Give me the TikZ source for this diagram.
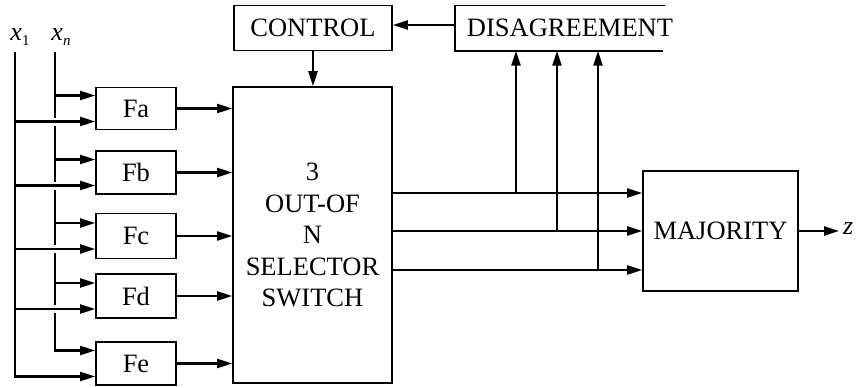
\documentclass[tikz,border=0pt]{standalone}
\usepackage{fontspec}
\setmainfont{Liberation Serif}
\usetikzlibrary{arrows.meta,calc}
\newcommand{\subsc}[1]{\raisebox{-5pt}{\fontsize{15}{18}\selectfont #1}}
\begin{document}
\begin{tikzpicture}[x=1pt,y=-1pt,
  bx/.style={draw, line width=1.6pt, inner sep=0pt, font=\fontsize{26.5}{31}\selectfont},
  conn/.style={line width=2.2pt, -{Triangle[length=15pt,width=9pt]}},
  gapconn/.style={conn, preaction={draw=white, line width=8pt, -, shorten <=4pt, shorten >=14pt}},
  lbl/.style={inner sep=1pt, font=\fontsize{26}{30}\selectfont\itshape}]
\useasboundingbox (0,0) rectangle (863,388);
\fill[white] (0,0) rectangle (863,388);

% F boxes
\node[bx, minimum width=80pt, minimum height=42pt] (Fa) at (136,108.5) {Fa};
\node[bx, minimum width=80pt, minimum height=43pt] (Fb) at (136,172.5) {Fb};
\node[bx, minimum width=80pt, minimum height=45pt] (Fc) at (136,236) {Fc};
\node[bx, minimum width=80pt, minimum height=44pt] (Fd) at (136,296) {Fd};
\node[bx, minimum width=80pt, minimum height=43pt] (Fe) at (136,363.5) {Fe};

% selector
\node[bx, minimum width=159pt, minimum height=296pt, align=center,
      font=\fontsize{26.5}{31.5}\selectfont] (Sel) at (312.5,235)
      {3\\OUT-OF\\N\\SELECTOR\\SWITCH};

% control and disagreement
\node[bx, minimum width=158pt, minimum height=45pt] (Ctrl) at (313,28) {CONTROL};
\node[inner sep=0pt, minimum width=210pt, minimum height=45pt, anchor=west] (Dis) at (455,28) {};
\draw[line width=1.6pt] (Dis.north east) -- (Dis.north west) -- (Dis.south west) -- ([xshift=-2pt]Dis.south east);
\node[font=\fontsize{26.5}{31}\selectfont, inner sep=0pt] (DisT) at (570,28) {DISAGREEMENT};

% majority
\node[bx, minimum width=155pt, minimum height=120pt] (Maj) at (720.5,231) {MAJORITY};
\node[lbl, anchor=west] (zl) at (842,229) {z};

% inputs
\coordinate (x1top) at (15,52);
\coordinate (xntop) at (55,52);
\node[lbl] (lx1) at (20,37) {x\subsc{\upshape 1}};
\node[lbl] (lxn) at (61,37) {x\subsc{n}};

\foreach \n in {a,b,c,d,e}{
  \coordinate (p\n) at ([yshift=13pt]F\n.west);
  \coordinate (q\n) at ([yshift=-13pt]F\n.west);
}
% x_n bus
\draw[conn] (xntop) |- (pe);
\foreach \n in {a,b,c,d}{
  \draw[conn] (xntop |- p\n) -- (p\n);
}
% x_1 bus (crosses x_n with a gap)
\foreach \n in {a,b,c,d}{
  \draw[gapconn] (x1top |- q\n) -- (q\n);
}
\draw[conn] (x1top) |- (qe);

% F outputs to selector
\foreach \n in {a,b,c,d,e}{
  \draw[conn] (F\n.east) -- (F\n.east -| Sel.west);
}

% control
\draw[conn] (Ctrl.south) -- (Ctrl.south |- Sel.north);
\draw[conn] ([yshift=3pt]Dis.west) -- ([yshift=3pt]Dis.west -| Ctrl.east);

% selector outputs to majority
\coordinate (m1) at ([yshift=38pt]Maj.west);
\coordinate (m2) at (Maj.west);
\coordinate (m3) at ([yshift=-39pt]Maj.west);
\draw[conn] (Sel.east |- m1) -- (m1);
\draw[conn] (Sel.east |- m2) -- (m2);
\draw[conn] (Sel.east |- m3) -- (m3);

% taps to disagreement
\coordinate (t1) at (516,0);
\coordinate (t2) at (557,0);
\coordinate (t3) at (598,0);
\draw[conn] (t1 |- m1) -- (t1 |- Dis.south);
\draw[conn] (t2 |- m2) -- (t2 |- Dis.south);
\draw[conn] (t3 |- m3) -- (t3 |- Dis.south);

% output
\draw[conn] (Maj.east) -- ([xshift=-3pt]zl.west |- Maj.east);
\end{tikzpicture}
\end{document}
